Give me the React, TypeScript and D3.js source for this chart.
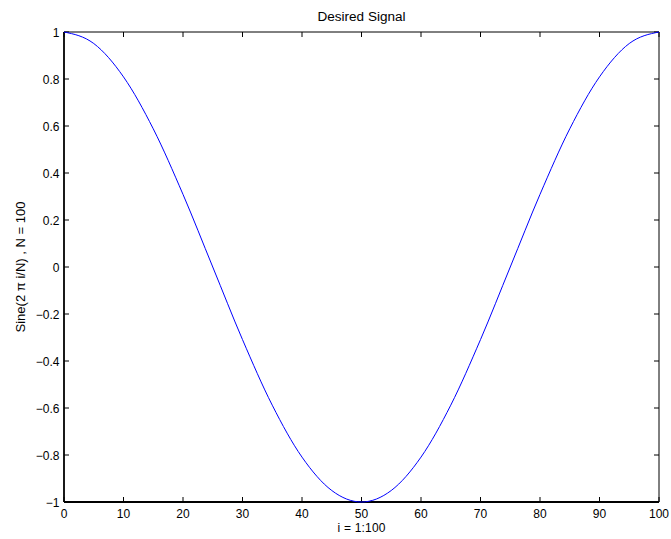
import React from "react";
import * as d3 from "d3";

const xValues = [0, 5, 10, 15, 20, 25, 30, 35, 40, 45, 50, 55, 60, 65, 70, 75, 80, 85, 90, 95, 100];
const yValues = [1, 0.951, 0.809, 0.588, 0.309, 0, -0.309, -0.588, -0.809, -0.951, -1, -0.951, -0.809, -0.588, -0.309, 0, 0.309, 0.588, 0.809, 0.951, 1];
const xTicks = [0, 10, 20, 30, 40, 50, 60, 70, 80, 90, 100];
const yTicks = [-1, -0.8, -0.6, -0.4, -0.2, 0, 0.2, 0.4, 0.6, 0.8, 1];
const title = "Desired Signal";
const xLabel = "i = 1:100";
const yLabel = "Sine(2 \u03c0 i/N) , N = 100";

const W = 671, H = 539;
const L = 64, R = 659, T = 32, B = 502;
const font = "'Liberation Sans', Arial, Helvetica, sans-serif";

const fmt = (v: number) => {
  const s = String(Math.round(v * 10) / 10);
  return s.replace("-", "\u2212");
};

export default function App() {
  const x = d3.scaleLinear().domain([0, 100]).range([L, R]);
  const y = d3.scaleLinear().domain([-1, 1]).range([B, T]);
  const line = d3
    .line<number>()
    .x((_, i) => x(xValues[i]))
    .y((d) => y(d))
    .curve(d3.curveMonotoneX);
  const tl = 5;
  return (
    <svg
      width={W}
      height={H}
      style={{ position: "absolute", left: 0, top: 0, background: "#fff" }}
      fontFamily={font}
    >
      <rect x={0} y={0} width={W} height={H} fill="#fff" />
      {xTicks.map((t) => (
        <g key={"x" + t}>
          <line x1={x(t)} x2={x(t)} y1={B} y2={B - tl} stroke="#000" strokeWidth={1} />
          <line x1={x(t)} x2={x(t)} y1={T} y2={T + tl} stroke="#000" strokeWidth={1} />
          <text x={x(t)} y={518} fontSize={12} textAnchor="middle" fill="#000">
            {fmt(t)}
          </text>
        </g>
      ))}
      {yTicks.map((t) => (
        <g key={"y" + t}>
          <line x1={L} x2={L + tl} y1={y(t)} y2={y(t)} stroke="#000" strokeWidth={1} />
          <line x1={R} x2={R - tl} y1={y(t)} y2={y(t)} stroke="#000" strokeWidth={1} />
          <text x={59.5} y={y(t) + 4.5} fontSize={12} textAnchor="end" fill="#000">
            {fmt(t)}
          </text>
        </g>
      ))}
      <line x1={L} x2={R} y1={T} y2={T} stroke="#000" strokeWidth={1} />
      <line x1={R} x2={R} y1={T} y2={B} stroke="#000" strokeWidth={1} />
      <line x1={L} x2={L} y1={T} y2={B} stroke="#000" strokeWidth={1.8} />
      <line x1={L} x2={R} y1={B} y2={B} stroke="#000" strokeWidth={1.8} />
      <path d={line(yValues) || ""} fill="none" stroke="#0000ff" strokeWidth={1} />
      <text
        x={(L + R) / 2}
        y={21}
        fontSize={12}
        textAnchor="middle"
        fill="#000"
        textLength={88}
        lengthAdjust="spacingAndGlyphs"
      >
        {title}
      </text>
      <text
        x={(L + R) / 2}
        y={532}
        fontSize={12}
        textAnchor="middle"
        fill="#000"
        textLength={48}
        lengthAdjust="spacing"
      >
        {xLabel}
      </text>
      <text
        transform={`translate(25, ${(T + B) / 2}) rotate(-90)`}
        fontSize={12}
        textAnchor="middle"
        fill="#000"
        textLength={131}
        lengthAdjust="spacingAndGlyphs"
      >
        {yLabel}
      </text>
    </svg>
  );
}
